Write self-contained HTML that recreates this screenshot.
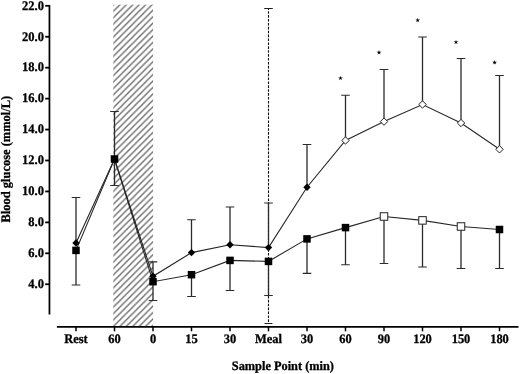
<!DOCTYPE html>
<html><head><meta charset="utf-8"><title>chart</title>
<style>html,body{margin:0;padding:0;background:#fff;}svg{display:block;filter:grayscale(1);}text{text-rendering:geometricPrecision;font-family:"Liberation Serif",serif;font-weight:bold;fill:#000;stroke:#000;stroke-width:0.3px;}</style></head><body>
<svg width="520" height="374" viewBox="0 0 520 374">
<rect width="520" height="374" fill="#fff"/>
<defs><pattern id="h" width="6.432" height="6.432" patternUnits="userSpaceOnUse" x="113.4" y="4.8"><path d="M-1.608,8.040000000000001 L8.040000000000001,-1.608 M-1.608,1.608 L1.608,-1.608 M4.824,8.040000000000001 L8.040000000000001,4.824" stroke="#6a6a6a" stroke-width="1.35" fill="none"/></pattern></defs>
<rect x="113.3" y="4.7" width="39.8" height="321.7" fill="url(#h)"/>
<path d="M49.45,5 V314.5" stroke="#000" stroke-width="1.75" fill="none"/>
<path d="M45.2,5.80 H49.4" stroke="#000" stroke-width="1.8"/>
<text transform="translate(43.90,9.60) scale(0.957,1)" font-size="13.1" text-anchor="end">22.0</text>
<path d="M45.2,36.74 H49.4" stroke="#000" stroke-width="1.8"/>
<text transform="translate(43.90,40.54) scale(0.957,1)" font-size="13.1" text-anchor="end">20.0</text>
<path d="M45.2,67.68 H49.4" stroke="#000" stroke-width="1.8"/>
<text transform="translate(43.90,71.48) scale(0.957,1)" font-size="13.1" text-anchor="end">18.0</text>
<path d="M45.2,98.62 H49.4" stroke="#000" stroke-width="1.8"/>
<text transform="translate(43.90,102.42) scale(0.957,1)" font-size="13.1" text-anchor="end">16.0</text>
<path d="M45.2,129.56 H49.4" stroke="#000" stroke-width="1.8"/>
<text transform="translate(43.90,133.36) scale(0.957,1)" font-size="13.1" text-anchor="end">14.0</text>
<path d="M45.2,160.50 H49.4" stroke="#000" stroke-width="1.8"/>
<text transform="translate(43.90,164.30) scale(0.957,1)" font-size="13.1" text-anchor="end">12.0</text>
<path d="M45.2,191.44 H49.4" stroke="#000" stroke-width="1.8"/>
<text transform="translate(43.90,195.24) scale(0.957,1)" font-size="13.1" text-anchor="end">10.0</text>
<path d="M45.2,222.38 H49.4" stroke="#000" stroke-width="1.8"/>
<text transform="translate(43.90,226.18) scale(0.957,1)" font-size="13.1" text-anchor="end">8.0</text>
<path d="M45.2,253.32 H49.4" stroke="#000" stroke-width="1.8"/>
<text transform="translate(43.90,257.12) scale(0.957,1)" font-size="13.1" text-anchor="end">6.0</text>
<path d="M45.2,284.26 H49.4" stroke="#000" stroke-width="1.8"/>
<text transform="translate(43.90,288.06) scale(0.957,1)" font-size="13.1" text-anchor="end">4.0</text>
<path d="M56.9,326.9 H518.5" stroke="#000" stroke-width="1.8" fill="none"/>
<path d="M76.00,327 V331.3" stroke="#000" stroke-width="1.5"/>
<text transform="translate(76.00,343.30) scale(0.957,1)" font-size="13.0" text-anchor="middle">Rest</text>
<path d="M114.50,327 V331.3" stroke="#000" stroke-width="1.5"/>
<text transform="translate(114.50,343.30) scale(0.957,1)" font-size="13.0" text-anchor="middle">60</text>
<path d="M153.00,327 V331.3" stroke="#000" stroke-width="1.5"/>
<text transform="translate(153.00,343.30) scale(0.957,1)" font-size="13.0" text-anchor="middle">0</text>
<path d="M191.50,327 V331.3" stroke="#000" stroke-width="1.5"/>
<text transform="translate(191.50,343.30) scale(0.957,1)" font-size="13.0" text-anchor="middle">15</text>
<path d="M230.00,327 V331.3" stroke="#000" stroke-width="1.5"/>
<text transform="translate(230.00,343.30) scale(0.957,1)" font-size="13.0" text-anchor="middle">30</text>
<path d="M268.50,327 V331.3" stroke="#000" stroke-width="1.5"/>
<text transform="translate(268.50,343.30) scale(0.957,1)" font-size="13.0" text-anchor="middle">Meal</text>
<path d="M307.00,327 V331.3" stroke="#000" stroke-width="1.5"/>
<text transform="translate(307.00,343.30) scale(0.957,1)" font-size="13.0" text-anchor="middle">30</text>
<path d="M345.50,327 V331.3" stroke="#000" stroke-width="1.5"/>
<text transform="translate(345.50,343.30) scale(0.957,1)" font-size="13.0" text-anchor="middle">60</text>
<path d="M384.00,327 V331.3" stroke="#000" stroke-width="1.5"/>
<text transform="translate(384.00,343.30) scale(0.957,1)" font-size="13.0" text-anchor="middle">90</text>
<path d="M422.50,327 V331.3" stroke="#000" stroke-width="1.5"/>
<text transform="translate(422.50,343.30) scale(0.957,1)" font-size="13.0" text-anchor="middle">120</text>
<path d="M461.00,327 V331.3" stroke="#000" stroke-width="1.5"/>
<text transform="translate(461.00,343.30) scale(0.957,1)" font-size="13.0" text-anchor="middle">150</text>
<path d="M499.50,327 V331.3" stroke="#000" stroke-width="1.5"/>
<text transform="translate(499.50,343.30) scale(0.957,1)" font-size="13.0" text-anchor="middle">180</text>
<text transform="translate(231.80,370.00) scale(0.957,1)" font-size="12.9" text-anchor="start">Sample Point (min)</text>
<text transform="translate(9.90,222.40) rotate(-90) scale(0.957,1)" font-size="13.0" text-anchor="start">Blood glucose (mmol/L)</text>
<path d="M268.50,8.5 V323.5" stroke="#111" stroke-width="1.1" stroke-dasharray="2.6,1.3" stroke-dashoffset="1.2" fill="none"/>
<path d="M264.20,8.5 H272.80 M264.60,323.5 H272.40" stroke="#222" stroke-width="1" fill="none"/>
<path d="M76.00,197.5 V243.0 M76.00,250.4 V285.0" stroke="#2b2b2b" stroke-width="1.3" fill="none"/>
<path d="M71.70,197.5 H80.30 M71.70,285.0 H80.30" stroke="#2b2b2b" stroke-width="1.1" fill="none"/>
<path d="M114.50,111.5 V159.0 M114.50,159.0 V185.5" stroke="#2b2b2b" stroke-width="1.3" fill="none"/>
<path d="M110.20,111.5 H118.80 M110.20,185.5 H118.80" stroke="#2b2b2b" stroke-width="1.1" fill="none"/>
<path d="M153.00,261.9 V276.3 M153.00,281.7 V300.5" stroke="#2b2b2b" stroke-width="1.3" fill="none"/>
<path d="M148.70,261.9 H157.30 M148.70,300.5 H157.30" stroke="#2b2b2b" stroke-width="1.1" fill="none"/>
<path d="M191.50,219.8 V252.6 M191.50,274.7 V296.5" stroke="#2b2b2b" stroke-width="1.3" fill="none"/>
<path d="M187.20,219.8 H195.80 M187.20,296.5 H195.80" stroke="#2b2b2b" stroke-width="1.1" fill="none"/>
<path d="M230.00,207.0 V244.7 M230.00,260.4 V290.5" stroke="#2b2b2b" stroke-width="1.3" fill="none"/>
<path d="M225.70,207.0 H234.30 M225.70,290.5 H234.30" stroke="#2b2b2b" stroke-width="1.1" fill="none"/>
<path d="M268.50,203.0 V247.6 M268.50,261.4 V295.5" stroke="#2b2b2b" stroke-width="1.3" fill="none"/>
<path d="M264.20,203.0 H272.80 M264.20,295.5 H272.80" stroke="#2b2b2b" stroke-width="1.1" fill="none"/>
<path d="M307.00,144.5 V187.2 M307.00,238.9 V273.4" stroke="#2b2b2b" stroke-width="1.3" fill="none"/>
<path d="M302.70,144.5 H311.30 M302.70,273.4 H311.30" stroke="#2b2b2b" stroke-width="1.1" fill="none"/>
<path d="M345.50,95.2 V140.5 M345.50,227.6 V264.8" stroke="#2b2b2b" stroke-width="1.3" fill="none"/>
<path d="M341.20,95.2 H349.80 M341.20,264.8 H349.80" stroke="#2b2b2b" stroke-width="1.1" fill="none"/>
<path d="M384.00,69.5 V121.6 M384.00,216.5 V263.5" stroke="#2b2b2b" stroke-width="1.3" fill="none"/>
<path d="M379.70,69.5 H388.30 M379.70,263.5 H388.30" stroke="#2b2b2b" stroke-width="1.1" fill="none"/>
<path d="M422.50,37.0 V104.5 M422.50,220.4 V267.0" stroke="#2b2b2b" stroke-width="1.3" fill="none"/>
<path d="M418.20,37.0 H426.80 M418.20,267.0 H426.80" stroke="#2b2b2b" stroke-width="1.1" fill="none"/>
<path d="M461.00,58.5 V123.0 M461.00,226.5 V268.5" stroke="#2b2b2b" stroke-width="1.3" fill="none"/>
<path d="M456.70,58.5 H465.30 M456.70,268.5 H465.30" stroke="#2b2b2b" stroke-width="1.1" fill="none"/>
<path d="M499.50,75.5 V149.3 M499.50,229.5 V268.5" stroke="#2b2b2b" stroke-width="1.3" fill="none"/>
<path d="M495.20,75.5 H503.80 M495.20,268.5 H503.80" stroke="#2b2b2b" stroke-width="1.1" fill="none"/>
<polyline points="76.00,243.0 114.50,159.0 153.00,276.3 191.50,252.6 230.00,244.7 268.50,247.6 307.00,187.2 345.50,140.5 384.00,121.6 422.50,104.5 461.00,123.0 499.50,149.3" stroke="#262626" stroke-width="1.1" fill="none"/>
<polyline points="76.00,250.4 114.50,159.0 153.00,281.7 191.50,274.7 230.00,260.4 268.50,261.4 307.00,238.9 345.50,227.6 384.00,216.5 422.50,220.4 461.00,226.5 499.50,229.5" stroke="#262626" stroke-width="1.1" fill="none"/>
<path d="M76.00,239.3 L79.70,243.0 L76.00,246.7 L72.30,243.0 Z" fill="#000"/>
<path d="M114.50,155.3 L118.20,159.0 L114.50,162.7 L110.80,159.0 Z" fill="#000"/>
<path d="M153.00,272.6 L156.70,276.3 L153.00,280.0 L149.30,276.3 Z" fill="#000"/>
<path d="M191.50,248.9 L195.20,252.6 L191.50,256.3 L187.80,252.6 Z" fill="#000"/>
<path d="M230.00,241.0 L233.70,244.7 L230.00,248.39999999999998 L226.30,244.7 Z" fill="#000"/>
<path d="M268.50,243.9 L272.20,247.6 L268.50,251.29999999999998 L264.80,247.6 Z" fill="#000"/>
<path d="M307.00,183.5 L310.70,187.2 L307.00,190.89999999999998 L303.30,187.2 Z" fill="#000"/>
<path d="M345.50,136.8 L349.20,140.5 L345.50,144.2 L341.80,140.5 Z" fill="#fff" stroke="#222" stroke-width="1"/>
<path d="M384.00,117.89999999999999 L387.70,121.6 L384.00,125.3 L380.30,121.6 Z" fill="#fff" stroke="#222" stroke-width="1"/>
<path d="M422.50,100.8 L426.20,104.5 L422.50,108.2 L418.80,104.5 Z" fill="#fff" stroke="#222" stroke-width="1"/>
<path d="M461.00,119.3 L464.70,123.0 L461.00,126.7 L457.30,123.0 Z" fill="#fff" stroke="#222" stroke-width="1"/>
<path d="M499.50,145.60000000000002 L503.20,149.3 L499.50,153.0 L495.80,149.3 Z" fill="#fff" stroke="#222" stroke-width="1"/>
<rect x="72.25" y="246.65" width="7.5" height="7.5" fill="#000"/>
<rect x="110.75" y="155.25" width="7.5" height="7.5" fill="#000"/>
<rect x="149.25" y="277.95" width="7.5" height="7.5" fill="#000"/>
<rect x="187.75" y="270.95" width="7.5" height="7.5" fill="#000"/>
<rect x="226.25" y="256.65" width="7.5" height="7.5" fill="#000"/>
<rect x="264.75" y="257.65" width="7.5" height="7.5" fill="#000"/>
<rect x="303.25" y="235.15" width="7.5" height="7.5" fill="#000"/>
<rect x="341.75" y="223.85" width="7.5" height="7.5" fill="#000"/>
<rect x="380.25" y="212.75" width="7.5" height="7.5" fill="#fff" stroke="#222" stroke-width="1"/>
<rect x="418.75" y="216.65" width="7.5" height="7.5" fill="#fff" stroke="#222" stroke-width="1"/>
<rect x="457.25" y="222.75" width="7.5" height="7.5" fill="#fff" stroke="#222" stroke-width="1"/>
<rect x="495.75" y="225.75" width="7.5" height="7.5" fill="#000"/>
<polygon points="340.50,75.70 341.04,77.46 342.88,77.43 341.37,78.48 341.97,80.22 340.50,79.12 339.03,80.22 339.63,78.48 338.12,77.43 339.96,77.46" fill="#000"/>
<polygon points="379.00,50.10 379.54,51.86 381.38,51.83 379.87,52.88 380.47,54.62 379.00,53.52 377.53,54.62 378.13,52.88 376.62,51.83 378.46,51.86" fill="#000"/>
<polygon points="417.70,17.80 418.24,19.56 420.08,19.53 418.57,20.58 419.17,22.32 417.70,21.22 416.23,22.32 416.83,20.58 415.32,19.53 417.16,19.56" fill="#000"/>
<polygon points="456.00,39.70 456.54,41.46 458.38,41.43 456.87,42.48 457.47,44.22 456.00,43.12 454.53,44.22 455.13,42.48 453.62,41.43 455.46,41.46" fill="#000"/>
<polygon points="494.60,60.10 495.14,61.86 496.98,61.83 495.47,62.88 496.07,64.62 494.60,63.52 493.13,64.62 493.73,62.88 492.22,61.83 494.06,61.86" fill="#000"/>
</svg></body></html>
